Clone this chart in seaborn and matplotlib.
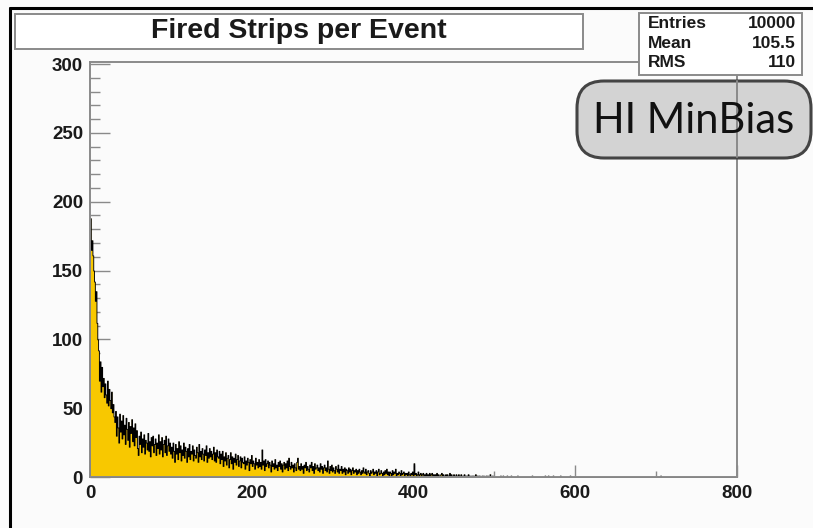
import numpy as np
import pandas as pd
import matplotlib
matplotlib.use("Agg")
import matplotlib.pyplot as plt
from matplotlib.patches import Rectangle, FancyBboxPatch
from matplotlib.lines import Line2D
from matplotlib.transforms import IdentityTransform
from matplotlib.ticker import MultipleLocator
import seaborn as sns

# ---------------- data (fired strips per event, 1-unit bins) ----------------
title = "Fired Strips per Event"
stat_labels = ["Entries", "Mean", "RMS"]
stat_values = ["10000", "105.5", "110"]
tag_text = "HI MinBias"
x_ticks = [0, 200, 400, 600, 800]
y_ticks = [0, 50, 100, 150, 200, 250, 300]

# counts for bins [0,1), [1,2), ... [499,500)
counts_0_499 = [
    188, 165, 172, 161, 150, 142, 128, 135, 112, 100,
    92, 70, 84, 62, 80, 66, 72, 58, 68, 60,
    54, 70, 52, 64, 56, 50, 62, 47, 53, 44,
    40, 48, 30, 44, 36, 25, 46, 33, 41, 28,
    45, 31, 38, 24, 43, 35, 27, 40, 22, 37,
    32, 42, 26, 36, 23, 39, 29, 34, 21, 16,
    30, 24, 33, 18, 28, 22, 31, 17, 27, 25,
    20, 32, 19, 26, 15, 29, 23, 30, 18, 24,
    28, 16, 25, 21, 31, 17, 26, 20, 29, 15,
    24, 27, 18, 30, 16, 23, 28, 19, 25, 17,
    22, 14, 25, 19, 11, 24, 17, 21, 13, 26,
    18, 23, 12, 20, 16, 25, 14, 22, 19, 11,
    21, 15, 24, 13, 19, 17, 23, 12, 20, 16,
    14, 22, 18, 11, 24, 15, 19, 13, 21, 17,
    12, 20, 16, 23, 11, 18, 14, 21, 15, 19,
    13, 17, 22, 12, 18, 11, 20, 15, 14, 19,
    10, 17, 13, 19, 8, 15, 12, 18, 9, 14,
    16, 7, 13, 18, 10, 15, 6, 14, 11, 17,
    9, 13, 16, 8, 12, 15, 7, 14, 11, 10,
    15, 6, 12, 9, 14, 11, 5, 13, 10, 16,
    8, 12, 10, 6, 14, 9, 11, 7, 13, 8,
    11, 6, 20, 9, 12, 5, 13, 8, 10, 12,
    7, 11, 9, 4, 12, 8, 10, 6, 13, 7,
    9, 5, 11, 8, 12, 6, 10, 4, 9, 11,
    6, 10, 7, 12, 5, 14, 8, 6, 11, 7,
    9, 4, 10, 7, 5, 11, 14, 6, 8, 5,
    10, 6, 8, 3, 9, 7, 11, 5, 8, 6,
    4, 9, 7, 11, 5, 8, 3, 10, 6, 7,
    9, 5, 7, 4, 10, 6, 8, 3, 7, 9,
    5, 7, 4, 12, 6, 3, 8, 5, 9, 4,
    7, 5, 3, 8, 6, 4, 9, 3, 6, 5,
    8, 3, 6, 4, 7, 2, 6, 5, 3, 7,
    4, 6, 2, 5, 7, 3, 5, 4, 6, 2,
    5, 3, 6, 4, 2, 5, 3, 7, 4, 3,
    6, 2, 4, 5, 3, 1, 5, 3, 4, 6,
    2, 4, 3, 5, 1, 4, 6, 2, 3, 5,
    3, 1, 4, 2, 5, 3, 6, 2, 4, 1,
    4, 3, 1, 5, 2, 4, 3, 6, 1, 3,
    2, 4, 3, 1, 5, 2, 3, 4, 1, 3,
    2, 3, 1, 4, 2, 1, 3, 2, 4, 1,
    10, 2, 3, 1, 2, 4, 1, 2, 3, 1,
    2, 3, 1, 2, 0, 3, 1, 2, 1, 3,
    1, 2, 3, 1, 2, 0, 2, 1, 3, 1,
    2, 1, 0, 2, 3, 1, 2, 1, 0, 2,
    1, 2, 1, 0, 3, 1, 2, 0, 1, 2,
    1, 0, 2, 1, 1, 2, 0, 1, 2, 1,
    0, 1, 2, 0, 1, 1, 0, 2, 1, 0,
    1, 0, 1, 1, 0, 1, 2, 0, 1, 0,
    1, 1, 0, 0, 1, 0, 1, 0, 0, 1,
    0, 1, 0, 0, 2, 0, 0, 1, 0, 0,
]
# sparse tail
tail_bins = [507, 510, 515, 520, 528, 546, 562, 566, 572, 581, 593, 705]
tail_counts = [1, 1, 1, 1, 1, 1, 1, 1, 1, 1, 1, 1]

# ---------------- build arrays ----------------
edges = list(range(0, 801))
counts = np.zeros(800)
counts[:len(counts_0_499)] = counts_0_499
for b, c in zip(tail_bins, tail_counts):
    counts[b] = c
df = pd.DataFrame({"strips": np.arange(800) + 0.5, "events": counts})

# ---------------- style ----------------
sns.set_style("white")
plt.rcParams["font.family"] = ["Liberation Sans", "DejaVu Sans"]

W, H = 813, 528
bg = "#fbfbfb"
frame_c = "#8a8a8a"
fig = plt.figure(figsize=(W / 100, H / 100), dpi=100)
fig.patch.set_facecolor(bg)

ax = fig.add_axes([90 / W, 51 / H, 647 / W, 415 / H])
ax.set_facecolor(bg)

sns.histplot(data=df, x="strips", weights="events", bins=edges, element="step", fill=True,
             color="#f8c800", edgecolor="black", linewidth=0.65, alpha=1.0, ax=ax)

ax.set_xlim(0, 800)
ax.set_ylim(0, 301.5)
ax.set_xlabel("")
ax.set_ylabel("")
ax.set_xticks(x_ticks)
ax.set_yticks(y_ticks)
ax.xaxis.set_minor_locator(MultipleLocator(100))
ax.yaxis.set_minor_locator(MultipleLocator(10))
ax.tick_params(axis="y", which="major", direction="in", length=14.4, width=1.0,
               color=frame_c, pad=5, labelsize=13.5, labelcolor="#1a1a1a")
ax.tick_params(axis="y", which="minor", direction="in", length=7.2, width=1.0, color=frame_c)
ax.tick_params(axis="x", which="major", direction="in", length=8.6, width=1.0,
               color=frame_c, pad=6, labelsize=13.5, labelcolor="#1a1a1a")
ax.tick_params(axis="x", which="minor", direction="in", length=4.3, width=1.0, color=frame_c)
ax.tick_params(left=True, bottom=True, which="both")
for lab in ax.get_xticklabels() + ax.get_yticklabels():
    lab.set_fontweight("bold")
for s in ax.spines.values():
    s.set_visible(True)
    s.set_color(frame_c)
    s.set_linewidth(1.4)

pix = IdentityTransform()

# canvas black border (top & left)
fig.add_artist(Line2D([9.5, W], [H - 7.5, H - 7.5], transform=pix, color="black", lw=2.2))
fig.add_artist(Line2D([9.5, 9.5], [0, H - 7.5], transform=pix, color="black", lw=2.2))

# title box
fig.add_artist(Rectangle((15, H - 49), 568, 35, transform=pix, facecolor="white",
                         edgecolor=frame_c, lw=1.4, zorder=3))
fig.text(299, H - 31.5, title, transform=pix, ha="center", va="center",
         fontsize=20.5, fontweight="bold", color="#1a1a1a", zorder=4)

# stats box
fig.add_artist(Rectangle((639, H - 75), 163, 62, transform=pix, facecolor="white",
                         edgecolor=frame_c, lw=1.4, zorder=3))
for i, (lab, val) in enumerate(zip(stat_labels, stat_values)):
    yy = H - (24 + 19.3 * i)
    fig.text(648, yy, lab, transform=pix, ha="left", va="center", fontsize=12.5,
             fontweight="bold", color="#1a1a1a", zorder=4)
    fig.text(796, yy, val, transform=pix, ha="right", va="center", fontsize=12.5,
             fontweight="bold", color="#1a1a1a", zorder=4)

# HI MinBias rounded box
fig.add_artist(FancyBboxPatch((577, H - 158), 234, 77, transform=pix,
                              boxstyle="round,pad=0,rounding_size=27",
                              facecolor="#d3d3d3", edgecolor="#444444", lw=2.2, zorder=3))
fig.add_artist(Line2D([737, 737], [H - 157, H - 81], transform=pix, color=frame_c,
                      lw=1.4, zorder=3.5))
fig.text(694, H - 121, tag_text, transform=pix, ha="center", va="center",
         fontsize=30, family=["Lato", "DejaVu Sans"], color="#111111", zorder=4)

fig.savefig("out.png", dpi=100, facecolor=bg)
